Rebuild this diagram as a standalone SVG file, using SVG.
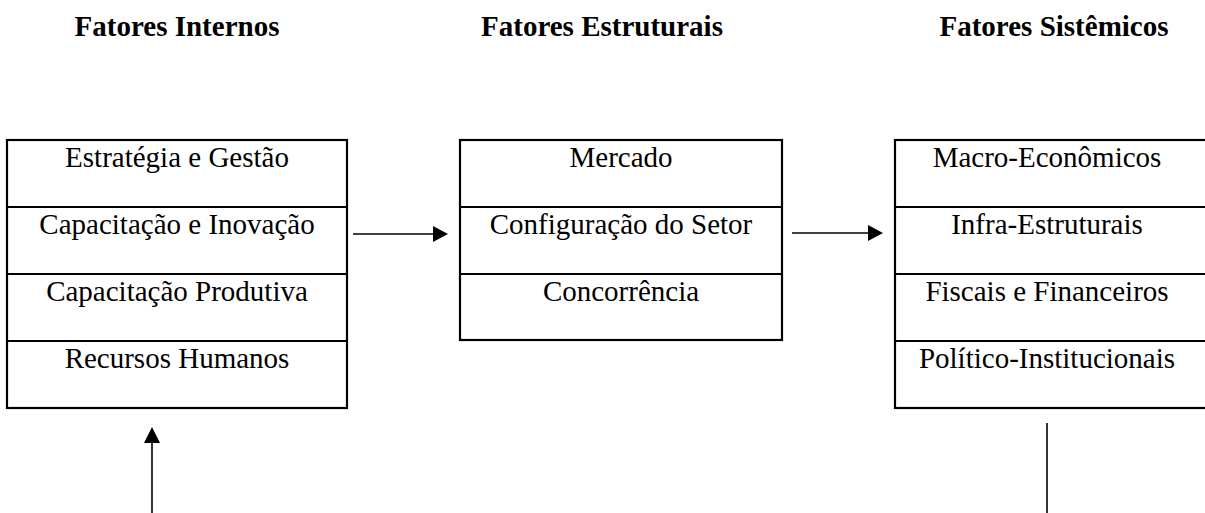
<svg xmlns="http://www.w3.org/2000/svg" width="1205" height="513" viewBox="0 0 1205 513">
<style>
.title{font-family:"Liberation Serif","Times New Roman",serif;font-weight:bold;font-size:29px;fill:#000;text-anchor:middle}
.lbl{font-family:"Liberation Serif","Times New Roman",serif;font-size:29px;fill:#000;text-anchor:middle}
.box{fill:#fff;stroke:#000;stroke-width:2.2}
.div{stroke:#000;stroke-width:2}
.conn{stroke:#000;stroke-width:1.6;fill:none}
.head{fill:#000}
</style>
<rect width="1205" height="513" fill="#fff"/>
<g id="titles">
<text class="title" x="177" y="36">Fatores Internos</text>
<text class="title" x="602" y="36">Fatores Estruturais</text>
<text class="title" x="1054" y="36">Fatores Sistêmicos</text>
</g>
<g id="node-internos">
<rect class="box" x="7" y="140" width="340" height="268"/>
<line class="div" x1="7" y1="207" x2="347" y2="207"/>
<line class="div" x1="7" y1="274" x2="347" y2="274"/>
<line class="div" x1="7" y1="341" x2="347" y2="341"/>
<text class="lbl" x="177" y="167">Estratégia e Gestão</text>
<text class="lbl" x="177" y="234">Capacitação e Inovação</text>
<text class="lbl" x="177" y="301">Capacitação Produtiva</text>
<text class="lbl" x="177" y="368">Recursos Humanos</text>
</g>
<g id="node-estruturais">
<rect class="box" x="460" y="140" width="322" height="200"/>
<line class="div" x1="460" y1="207" x2="782" y2="207"/>
<line class="div" x1="460" y1="274" x2="782" y2="274"/>
<text class="lbl" x="621" y="167">Mercado</text>
<text class="lbl" x="621" y="234">Configuração do Setor</text>
<text class="lbl" x="621" y="301">Concorrência</text>
</g>
<g id="node-sistemicos">
<rect class="box" x="895" y="140" width="320" height="268"/>
<line class="div" x1="895" y1="207" x2="1215" y2="207"/>
<line class="div" x1="895" y1="274" x2="1215" y2="274"/>
<line class="div" x1="895" y1="341" x2="1215" y2="341"/>
<text class="lbl" x="1047" y="167">Macro-Econômicos</text>
<text class="lbl" x="1047" y="234">Infra-Estruturais</text>
<text class="lbl" x="1047" y="301">Fiscais e Financeiros</text>
<text class="lbl" x="1047" y="368">Político-Institucionais</text>
</g>
<g id="connectors">
<line class="conn" x1="353" y1="234" x2="434" y2="234"/>
<polygon class="head" points="433,226 448,234 433,242"/>
<line class="conn" x1="792" y1="233" x2="869" y2="233"/>
<polygon class="head" points="868,225 883,233 868,241"/>
<line class="conn" x1="152" y1="513" x2="152" y2="442"/>
<polygon class="head" points="144,443 152,427 160,443"/>
<line class="conn" x1="1047" y1="423" x2="1047" y2="513"/>
</g>
</svg>
